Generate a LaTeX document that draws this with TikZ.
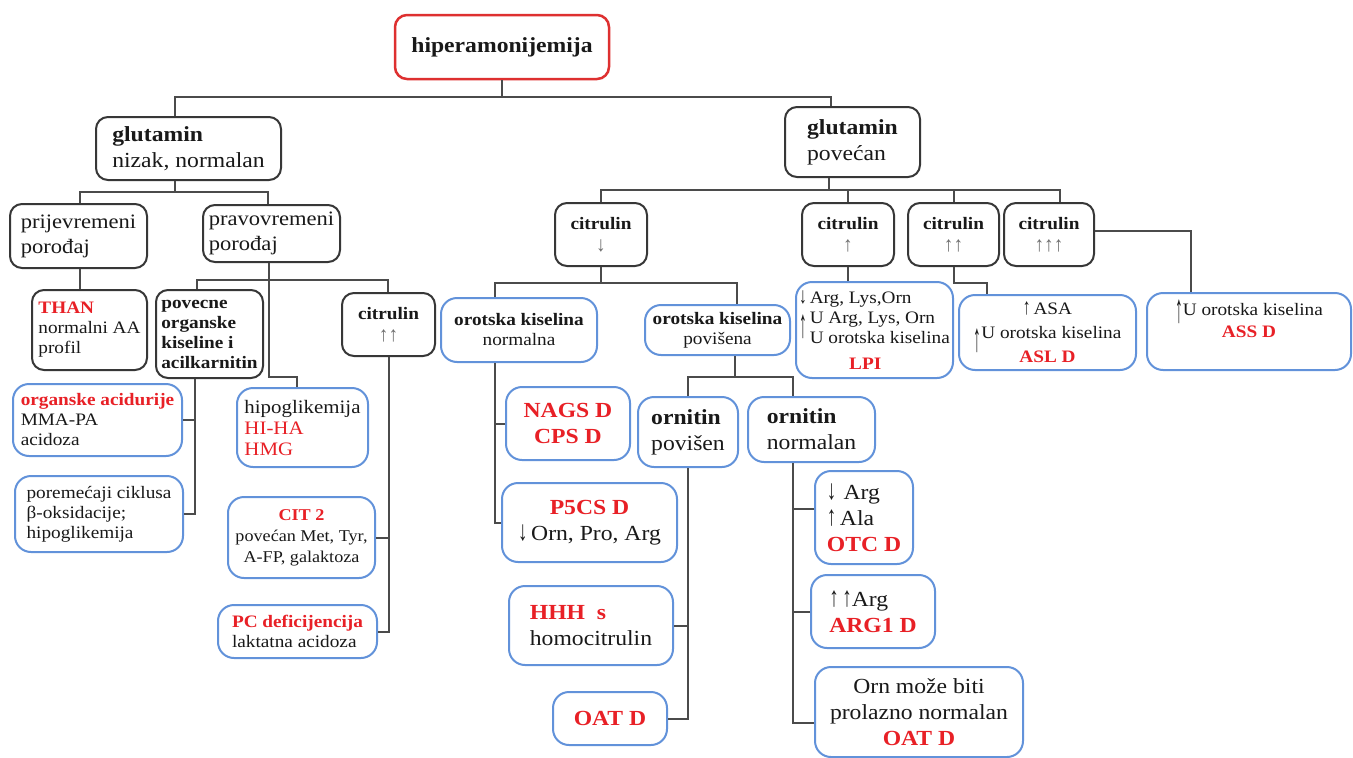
\documentclass[tikz,border=0pt]{standalone}
\usepackage{fontspec}
\setmainfont{Liberation Serif}[FakeStretch=1.1]
\usepackage{graphicx}
\definecolor{rtext}{RGB}{232,32,38}
\definecolor{rbord}{RGB}{222,48,48}
\definecolor{ucol}{RGB}{98,146,218}
\definecolor{bcol}{RGB}{55,55,55}
\definecolor{lcol}{RGB}{75,75,75}
\definecolor{tcol}{RGB}{25,25,25}
\definecolor{acol}{RGB}{110,110,110}
\newcommand\fL{\fontsize{21.5}{26}\selectfont}
\newcommand\fP{\fontsize{20.5}{25}\selectfont}
\newcommand\fM{\fontsize{17.5}{20}\selectfont}
\newcommand\redb[1]{\textcolor{rtext}{\textbf{#1}}}
\newcommand\redn[1]{\textcolor{rtext}{#1}}
\newcommand\upa{\scalebox{0.8}[1.3]{↑}}
\newcommand\dna{\scalebox{0.8}[1.3]{↓}}
\newcommand\gua[1]{{\color{acol}\scalebox{1}[1.2]{#1}}}
\newcommand\tallup[2]{\smash{\raisebox{#1}{\scalebox{0.8}[#2]{↑}}}}
\begin{document}
\begin{tikzpicture}[x=1pt,y=-1pt,
  sz/.style 2 args={minimum width=#1pt,minimum height=#2pt},
  blk/.style={draw=bcol,line width=2pt,rounded corners=12pt,inner sep=3pt,text=tcol},
  blu/.style={draw=ucol,line width=2pt,rounded corners=16pt,inner sep=3pt,text=tcol},
  conn/.style={draw=lcol,line width=2pt}]
\fill[white] (0,0) rectangle (1353,758);
\useasboundingbox (0,0) rectangle (1353,758);

% ---- nodes ----
\node[draw=rbord,line width=2.5pt,rounded corners=12pt,text=tcol,sz={214}{64},font=\fL] (hiper) at (502,47) {\textbf{hiperamonijemija}};
\node[blk,sz={185}{63},font=\fL,align=left] (gnizak) at (188.5,148.5) {\textbf{glutamin}\\nizak, normalan};
\node[blk,sz={135}{70},font=\fL,align=left] (gpov) at (852.5,142) {\textbf{glutamin}\\povećan};

\node[blk,sz={137}{64},font=\fP,align=left] (prij) at (78.5,236) {prijevremeni\\porođaj};
\node[blk,sz={137}{57},font=\fP,align=left] (prav) at (271.5,233.5) {pravovremeni\\porođaj};
\node[blk,sz={115}{80},font=\fM,align=left] (than) at (89.5,330) {\redb{THAN}\\normalni AA\\profil};
\node[blk,sz={107}{88},font=\fM\bfseries,align=left] (povecne) at (209.5,334) {povecne\\organske\\kiseline i\\acilkarnitin};
\node[blk,sz={93}{63},font=\fontsize{17.5}{22}\selectfont,align=center] (citL) at (388.5,324.5) {\textbf{citrulin}\\\gua{↑↑}};
\node[blu,sz={169}{72},font=\fM,align=left] (orgacid) at (97.5,420) {\redb{organske acidurije}\\MMA-PA\\acidoza};
\node[blu,sz={168}{76},font=\fM,align=left] (porem) at (99,514) {poremećaji ciklusa\\β-oksidacije;\\hipoglikemija};
\node[blu,sz={131}{79},font=\fontsize{19}{21}\selectfont,align=left] (hipo) at (302.5,427.5) {hipoglikemija\\\redn{HI-HA}\\\redn{HMG}};
\node[blu,sz={147}{81},font=\fontsize{16.5}{21}\selectfont,align=center] (cit2) at (301.5,537.5) {\redb{CIT 2}\\povećan Met, Tyr,\\A-FP, galaktoza};
\node[blu,sz={159}{53},font=\fM,align=left] (pc) at (297.5,631.5) {\redb{PC deficijencija}\\laktatna acidoza};

\node[blk,sz={92}{63},font=\fontsize{17.5}{22}\selectfont,align=center] (citD) at (601,234.5) {\textbf{citrulin}\\\gua{↓}};
\node[blk,sz={92}{63},font=\fontsize{17.5}{22}\selectfont,align=center] (citU1) at (848,234.5) {\textbf{citrulin}\\\gua{↑}};
\node[blk,sz={91}{63},font=\fontsize{17.5}{22}\selectfont,align=center] (citU2) at (953.5,234.5) {\textbf{citrulin}\\\gua{↑↑}};
\node[blk,sz={90}{63},font=\fontsize{17.5}{22}\selectfont,align=center] (citU3) at (1049,234.5) {\textbf{citrulin}\\\gua{↑↑↑}};

\node[blu,sz={156}{64},font=\fM,align=center] (oro1) at (519,330) {\textbf{orotska kiselina}\\normalna};
\node[blu,sz={145}{50},font=\fM,align=center] (oro2) at (717.5,330) {\textbf{orotska kiselina}\\povišena};
\node[blu,sz={157}{96},font=\fM,align=left] (lpi) at (874.5,330) {\dna\,Arg, Lys,Orn\\\tallup{-14pt}{2.3}\,U Arg, Lys, Orn\\\hphantom{\upa}\,U orotska kiselina\\[6pt]\hspace*{50pt}\redb{LPI}};
\node[blu,sz={177}{75},font=\fontsize{17.5}{24}\selectfont,align=center] (asl) at (1047.5,332.5) {\upa\,ASA\\\tallup{-13pt}{2.3}U orotska kiselina\\\redb{ASL D}};
\node[blu,sz={204}{77},font=\fontsize{17.5}{22}\selectfont,align=center] (ass) at (1249,331.5) {\tallup{-7pt}{2.3}U orotska kiselina\\\redb{ASS D}\\[0pt]\mbox{}};

\node[blu,sz={124}{73},font=\fL,align=center] (nags) at (568,423.5) {\redb{NAGS D}\\\redb{CPS D}};
\node[blu,sz={100}{70},font=\fL,align=left] (ornp) at (688,432) {\textbf{ornitin}\\povišen};
\node[blu,sz={127}{65},font=\fL,align=left] (ornn) at (811.5,429.5) {\textbf{ornitin}\\normalan};
\node[blu,sz={175}{79},font=\fL,align=center] (p5cs) at (589.5,522.5) {\redb{P5CS D}\\\dna\,Orn, Pro, Arg};
\node[blu,sz={164}{79},font=\fL,align=left] (hhh) at (591,625.5) {\redb{HHH\ \ s}\\homocitrulin};
\node[blu,sz={114}{53},font=\fL] (oatl) at (610,718.5) {\redb{OAT D}};
\node[blu,sz={98}{93},font=\fL,align=left] (otc) at (864,517.5) {\dna\,\,Arg\\\upa\,Ala\\\redb{OTC D}};
\node[blu,sz={124}{73},font=\fL,align=left] (arg1) at (873,611.5) {\upa\,\upa Arg\\\redb{ARG1 D}};
\node[blu,sz={208}{90},font=\fL,align=center] (oatr) at (919,712) {Orn može biti\\prolazno normalan\\\redb{OAT D}};

% ---- connectors ----
\draw[conn] (hiper.south) -- (hiper.south |- 0,97);
\draw[conn] (gnizak.north -| 175,0) |- (831,97) -- (gpov.north -| 831,0);

\draw[conn] (gnizak.south -| 175,0) -- (175,192);
\draw[conn] (prij.north -| 80,0) |- (268,192) -- (prav.north -| 268,0);
\draw[conn] (prij.south -| 80,0) -- (than.north -| 80,0);
\draw[conn] (prav.south -| 269,0) -- (269,377) -| (hipo.north -| 297,0);
\draw[conn] (povecne.north -| 197,0) |- (388,280) -- (citL.north -| 388,0);
\draw[conn] (povecne.south -| 195,0) |- (porem.east);
\draw[conn] (orgacid.east) -- (orgacid.east -| 195,0);
\draw[conn] (citL.south) |- (pc.east);
\draw[conn] (cit2.east) -- (cit2.east -| citL.south);

\draw[conn] (gpov.south -| 829,0) -- (829,190);
\draw[conn] (citD.north) |- (1060,190) -- (citU3.north -| 1060,0);
\draw[conn] (citU1.north) -- (citU1.north |- 0,190);
\draw[conn] (citU2.north) -- (citU2.north |- 0,190);
\draw[conn] (citD.south) -- (citD.south |- 0,283);
\draw[conn] (oro1.north -| 495,0) |- (737,283) -- (oro2.north -| 737,0);
\draw[conn] (citU1.south) -- (lpi.north -| citU1.south);
\draw[conn] (citU2.south) |- (987,283) -- (asl.north -| 987,0);
\draw[conn] (citU3.east |- 0,231) -| (ass.north -| 1191,0);

\draw[conn] (oro1.south -| 495,0) |- (p5cs.west);
\draw[conn] (nags.west) -- (nags.west -| 495,0);
\draw[conn] (oro2.south -| 735,0) -- (735,377);
\draw[conn] (ornp.north) |- (793,377) -- (ornn.north -| 793,0);
\draw[conn] (ornp.south) |- (oatl.east);
\draw[conn] (hhh.east) -- (hhh.east -| ornp.south);
\draw[conn] (ornn.south -| 793,0) |- (oatr.west |- 0,723);
\draw[conn] (otc.west |- 0,509) -- (793,509);
\draw[conn] (arg1.west) -- (arg1.west -| 793,0);
\end{tikzpicture}
\end{document}
